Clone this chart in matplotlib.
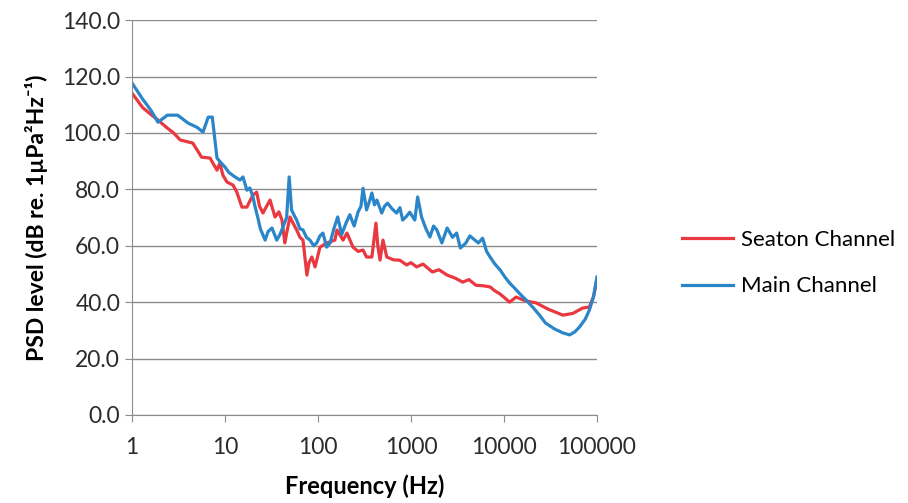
import matplotlib
matplotlib.use('Agg')
import matplotlib.pyplot as plt
from matplotlib.ticker import FixedLocator, FixedFormatter, FormatStrFormatter

# Main Channel (blue)
main_f = [1, 1.3, 1.6, 1.9, 2.4, 3.1, 4.0, 5.0, 5.8, 6.6, 7.3, 8.2, 9, 10, 11, 12.8,
          14.5, 15.6, 17.2, 18.5, 20, 21, 22.6, 24, 27, 29, 32, 36, 39, 42, 46, 49,
          52, 55, 59, 64, 69, 75, 82, 90, 97, 105, 113, 124, 135, 148, 163, 180, 200,
          220, 245, 270, 290, 305, 333, 360, 380, 405, 430, 485, 520, 560, 630, 700, 760,
          815, 900, 970, 1100, 1180, 1300, 1450, 1600, 1750, 1900, 2150, 2450, 2800, 3100,
          3400, 3900, 4300, 4600, 5300, 5900, 6500, 7100, 8000, 9100, 10200, 11500, 13000,
          14600, 17000, 20300, 24000, 28000, 35000, 43000, 51000, 58000, 65000, 75000,
          83000, 92000, 100000]
main_db = [117.7, 112, 108, 103.8, 106.3, 106.3, 103.5, 102, 100.3, 105.6, 105.6, 91.1,
           89.5, 87.9, 86, 84.4, 83.3, 84.4, 79.7, 80.5, 77.3, 74, 69.8, 66, 62, 65,
           66.3, 62, 64, 66.6, 70, 84.4, 72.7, 71, 69.1, 66, 65.6, 63, 62, 60, 61, 63.5,
           64.5, 59.5, 61, 66, 70.2, 64, 68, 71, 67, 72, 74, 80.4, 72.7, 76, 78.7, 74.5,
           76.2, 71.6, 74, 75.1, 73, 71.6, 73.5, 69.1, 70.5, 71.9, 69.1, 77.3, 70.2, 66,
           63.1, 67, 65.6, 61, 66.3, 63, 64.5, 59.2, 61, 63.5, 62.7, 61, 62.7, 58, 56,
           53.5, 51.4, 49, 46.8, 45, 43.2, 41, 38.3, 35.5, 32.6, 30.5, 29.1, 28.4, 29.5,
           31.2, 34, 37.2, 42, 48.9]

# Seaton Channel (red)
seaton_f = [1, 1.3, 1.6, 1.9, 2.4, 2.8, 3.3, 4.5, 5.0, 5.6, 6.9, 7.5, 8.2, 8.8, 9.5,
            10.5, 12.2, 13.4, 15.2, 17.2, 18.6, 20, 21.9, 23.5, 25.6, 28, 30.5, 34.5,
            38, 41, 44, 47, 50, 54, 59, 64, 69, 76, 80, 86, 93, 105, 124, 152, 160, 186,
            205, 238, 270, 305, 333, 380, 420, 440, 465, 500, 550, 650, 755, 900, 1000,
            1150, 1350, 1600, 1700, 2000, 2450, 3000, 3600, 4200, 5000, 6000, 7100, 8000,
            9000, 10200, 11500, 13500, 17000, 22300, 30000, 43000, 55000, 70000, 83000,
            92000, 100000]
seaton_db = [114.1, 109, 106.5, 104.6, 101.7, 100, 97.5, 96.4, 94, 91.4, 91.1, 89, 86.8,
             89.3, 85, 82.6, 81.5, 79, 73.7, 73.7, 76, 78, 79, 74, 71.6, 74, 76.2, 70.2,
             72, 69.1, 61, 66, 70.2, 68, 65.6, 63, 62, 49.6, 54, 56, 52.5, 59.5, 61, 62,
             65.6, 62, 64.5, 59.5, 58, 58.5, 56, 56, 68, 60, 54.9, 62, 56, 55, 54.9, 53.2,
             54, 52.5, 53.5, 51.4, 50.7, 51.5, 49.6, 48.5, 47.1, 48, 46, 45.8, 45.4, 44,
             43, 41.5, 40, 41.8, 40.5, 39.7, 37.5, 35.4, 36, 37.9, 38.3, 42, 47.8]

x_ticks = [1, 10, 100, 1000, 10000, 100000]
x_labels = ['1', '10', '100', '1000', '10000', '100000']

plt.rcParams['font.family'] = ['Lato', 'DejaVu Sans']

fig = plt.figure(figsize=(9.08, 5.03), dpi=100)
ax = fig.add_axes([0.1454, 0.175, 0.512, 0.785])

ax.plot(seaton_f, seaton_db, color='#E9383F', lw=2.3, label='Seaton Channel')
ax.plot(main_f, main_db, color='#2A86C8', lw=2.3, label='Main Channel')

ax.set_xscale('log')
ax.set_xlim(1, 100000)
ax.set_ylim(0, 140)
ax.xaxis.set_major_locator(FixedLocator(x_ticks))
ax.xaxis.set_major_formatter(FixedFormatter(x_labels))
ax.xaxis.set_minor_locator(FixedLocator([]))
ax.set_yticks(range(0, 141, 20))
ax.yaxis.set_major_formatter(FormatStrFormatter('%.1f'))

ax.grid(axis='y', color='#8C8C8C', lw=1)
ax.set_axisbelow(True)
for s in ['top', 'right']:
    ax.spines[s].set_visible(False)
for s in ['left', 'bottom']:
    ax.spines[s].set_color('#8C8C8C')
ax.tick_params(axis='both', colors='#8C8C8C', labelcolor='#2B2B2B', labelsize=16.5, length=5)
ax.tick_params(axis='x', pad=11)

ax.set_xlabel('Frequency (Hz)', fontsize=17, fontweight='bold', labelpad=12)
ax.set_ylabel('PSD level (dB re. 1µPa²Hz⁻¹)', fontsize=16.5, fontweight='bold', labelpad=10)

ax.legend(loc='center left', bbox_to_anchor=(1.14, 0.385), frameon=False, fontsize=16,
          handlelength=2.3, handletextpad=0.35, labelspacing=1.2)

fig.savefig('out.png', dpi=100)
